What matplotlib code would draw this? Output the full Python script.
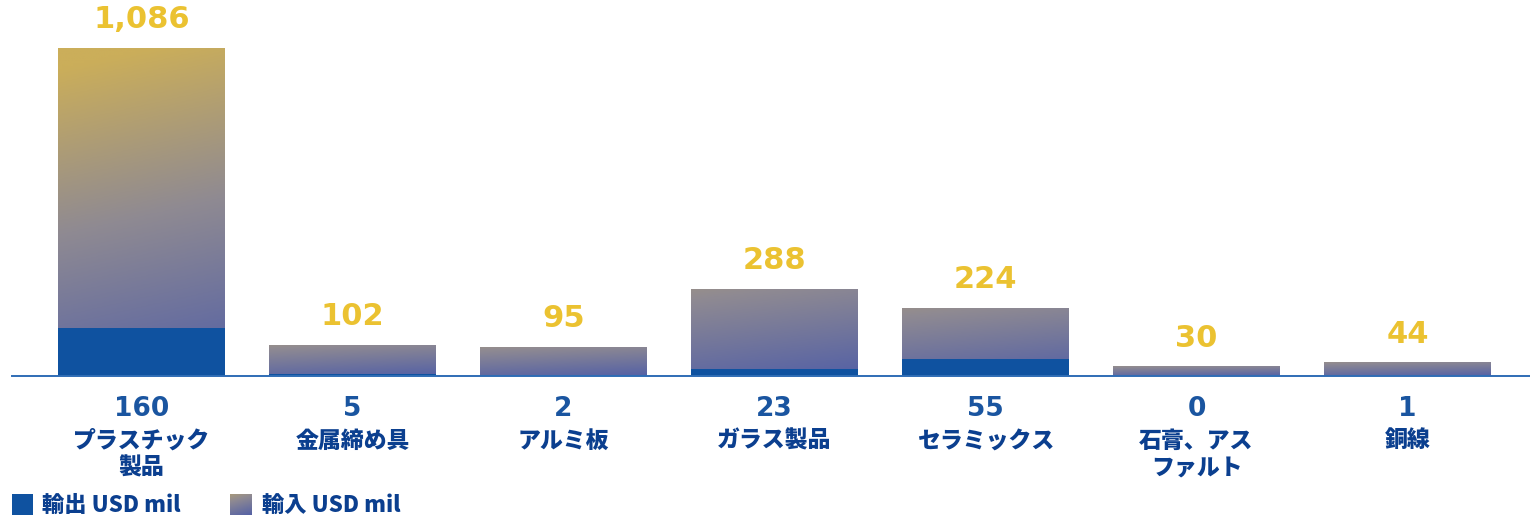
import numpy as np
import matplotlib.pyplot as plt
from matplotlib.colors import LinearSegmentedColormap

plt.rcParams['font.family'] = ['Noto Sans CJK JP', 'DejaVu Sans']

# ── data ────────────────────────────────────────────────────────
categories = ['プラスチック\n製品', '金属締め具', 'アルミ板', 'ガラス製品',
              'セラミックス', '石膏、アス\nファルト', '銅線']
imports = [1086, 102, 95, 288, 224, 30, 44]    # 輸入 USD mil
exports = [160, 5, 2, 23, 55, 0, 1]            # 輸出 USD mil

# ── styles ──────────────────────────────────────────────────────
EXPORT_BLUE = '#0f52a0'
AXIS_BLUE = '#2f6db5'
VALUE_YELLOW = '#ebc231'
LABEL_BLUE = '#0b3f8f'
NUM_BLUE = '#1a55a0'
NUM_FONT = ['DejaVu Sans']
grad = LinearSegmentedColormap.from_list(
    'imp', [(0.0, '#4c5ba8'), (0.55, '#8f8a92'), (1.0, '#cbae5a')])

W, H = 1530, 520
fig = plt.figure(figsize=(W / 100, H / 100), dpi=100)
ax = fig.add_axes([12 / W, 144 / H, (W - 12) / W, 328 / H])

x0, step, bw = 141.5, 211.0, 0.79
ymax = max(imports)


def bar_gradient(top_v):
    # vertical: bottom blue -> top gray (tall bars reach yellow)
    u = np.linspace(0, 1, 120)[:, None]
    s = np.linspace(0, 1, 60)[None, :]
    v = 0.12 + u * (top_v - 0.12) + 0.10 * (0.5 - s)
    return grad(np.clip(v, 0, 1))


for i, (imp, exp) in enumerate(zip(imports, exports)):
    top_v = max(0.55, imp / ymax)
    ax.imshow(bar_gradient(top_v), extent=(i - bw / 2, i + bw / 2, 0, imp),
              origin='lower', aspect='auto', interpolation='bilinear', zorder=2)
    ax.bar(i, exp, width=bw, color=EXPORT_BLUE, zorder=3)

    ax.annotate(f'{imp:,}', xy=(i, imp), xytext=(0, 10), textcoords='offset points',
                ha='center', va='bottom', fontsize=22, fontweight='bold',
                color=VALUE_YELLOW, family=NUM_FONT)
    ax.annotate(f'{exp}', xy=(i, 0), xytext=(0, -23.5), textcoords='offset points',
                ha='center', va='center', fontsize=19, fontweight='bold',
                color=NUM_BLUE, family=NUM_FONT)
    ax.annotate(categories[i], xy=(i, 0), xytext=(0, -38.5), textcoords='offset points',
                ha='center', va='top', fontsize=16.5, fontweight='heavy',
                color=LABEL_BLUE, linespacing=1.2)

ax.set_xlim((12 - x0) / step, (W - x0) / step)
ax.set_ylim(0, ymax)
ax.axhline(0, color=AXIS_BLUE, linewidth=1.4, zorder=4, clip_on=False)
ax.axis('off')

# ── legend ──────────────────────────────────────────────────────
sq1 = fig.add_axes([12 / W, (H - 515) / H, 21 / W, 21 / H])
sq1.set_facecolor(EXPORT_BLUE)
sq1.set_xticks([]); sq1.set_yticks([])
for sp in sq1.spines.values():
    sp.set_visible(False)
fig.text(42 / W, (H - 505) / H, '輸出 USD mil', ha='left', va='center',
         fontsize=16, fontweight='heavy', color=LABEL_BLUE)

sq2 = fig.add_axes([230 / W, (H - 515) / H, 22 / W, 21 / H])
u = np.linspace(0, 1, 30)[:, None]
s = np.linspace(0, 1, 30)[None, :]
sq2.imshow(grad(np.clip(0.15 + 0.5 * u + 0.15 * (0.5 - s), 0, 1)), origin='lower',
           aspect='auto', interpolation='bilinear')
sq2.axis('off')
fig.text(262 / W, (H - 505) / H, '輸入 USD mil', ha='left', va='center',
         fontsize=16, fontweight='heavy', color=LABEL_BLUE)

fig.savefig('out.png', dpi=100)
